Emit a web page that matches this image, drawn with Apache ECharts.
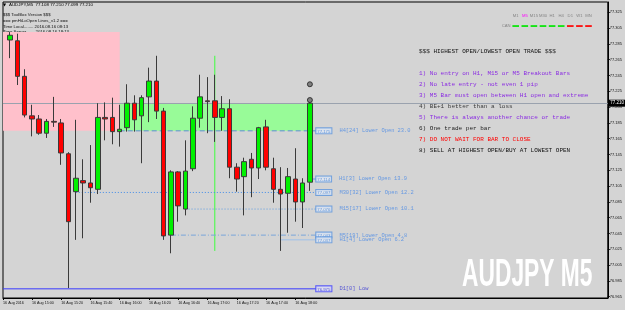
<!DOCTYPE html>
<html>
<head>
<meta charset="utf-8">
<script src="https://cdn.jsdelivr.net/npm/echarts@6/dist/echarts.min.js"></script>
<style>
html, body { margin: 0; padding: 0; background: #d4d4d4; }
#chart { width: 625px; height: 310px; }
</style>
</head>
<body>
<div id="chart"></div>
<script>
// AUDJPY M5 bars, 16 Aug 2016
var TIMES = ['14:45','14:50','14:55','15:00','15:05','15:10','15:15','15:20','15:25','15:30','15:35','15:40',
  '15:45','15:50','15:55','16:00','16:05','16:10','16:15','16:20','16:25','16:30','16:35','16:40',
  '16:45','16:50','16:55','17:00','17:05','17:10','17:15','17:20','17:25','17:30','17:35','17:40',
  '17:45','17:50','17:55','18:00','18:05','18:10'];
var OPEN = [77.290,77.289,77.244,77.194,77.190,77.172,77.187,77.185,77.146,77.098,77.112,77.109,
  77.101,77.192,77.192,77.174,77.179,77.210,77.194,77.218,77.238,77.200,77.043,77.123,
  77.076,77.127,77.191,77.213,77.213,77.192,77.203,77.129,77.117,77.139,77.128,77.180,
  77.127,77.101,77.096,77.114,77.085,77.110];
var CLOSE = [77.296,77.244,77.195,77.190,77.172,77.187,77.186,77.147,77.060,77.115,77.109,77.103,
  77.192,77.190,77.174,77.177,77.210,77.189,77.217,77.238,77.200,77.042,77.123,77.080,
  77.124,77.191,77.218,77.212,77.192,77.203,77.129,77.114,77.136,77.128,77.179,77.129,
  77.101,77.095,77.117,77.085,77.109,77.210];
var LOW = [77.267,77.233,77.192,77.168,77.170,77.166,77.180,77.132,76.976,77.037,77.039,77.084,
  77.095,77.163,77.158,77.155,77.174,77.174,77.134,77.186,77.190,77.037,77.020,77.060,
  77.068,77.124,77.179,77.172,77.161,77.175,77.115,77.098,77.068,77.091,77.114,77.125,
  77.084,77.023,77.046,77.060,77.052,77.099];
var HIGH = [77.300,77.298,77.253,77.208,77.195,77.190,77.218,77.190,77.148,77.189,77.139,77.157,
  77.210,77.211,77.217,77.208,77.234,77.220,77.220,77.255,77.270,77.204,77.125,77.124,
  77.163,77.206,77.246,77.243,77.246,77.219,77.215,77.134,77.141,77.147,77.180,77.189,
  77.141,77.129,77.128,77.153,77.115,77.211];

// axis labels (first one sits on the left edge)
var TICK_TIMES = [null,'15:00','15:20','15:40','16:00','16:20','16:40','17:00','17:20','17:40','18:00'];
var TICK_LABELS = ['16 Aug 2016','16 Aug 15:00','16 Aug 15:20','16 Aug 15:40','16 Aug 16:00','16 Aug 16:20',
  '16 Aug 16:40','16 Aug 17:00','16 Aug 17:20','16 Aug 17:40','16 Aug 18:00'];
var Y_TICKS = [76.965,76.985,77.005,77.025,77.045,77.065,77.085,77.105,77.125,77.145,77.165,
  77.185,77.205,77.225,77.245,77.265,77.285,77.305,77.325];
var LAST_PRICE = 77.210;

// HiLoOpen levels
var LEVEL_NAMES = ['H4[24] Lower Open 23.0','H1[3] Lower Open 13.9','M30[32] Lower Open 12.2',
  'M15[17] Lower Open 10.1','M5[19] Lower Open 4.8','H1[4] Lower Open 6.2','D1[0] Low'];
var LEVEL_PRICES = [77.175, 77.114, 77.097, 77.076, 77.043, 77.037, 76.975];
var LEVEL_FROM = ['16:00', '18:10', '15:30', '16:45', '16:35', '17:50', null];

// shaded zones
var ZONE_FROM = [null, '16:00'];
var ZONE_TO = ['16:00', null];
var ZONE_LOW = [77.175, 77.175];
var ZONE_HIGH = [77.300, 77.209];

var VLINE_TIME = '17:05', VLINE_TOP = 77.270, VLINE_BOTTOM = 77.023;
var MARK_TIMES = ['18:10', '18:10'];
var MARK_PRICES = [77.234, 77.214];

var INFO_LINES = ['$$$ TooBlox Version $$$', '=== pmHiLoOpen Lines_v1.2 ===',
  'Time Local........ 2016.08.16 08:13', 'Time Server....... 2016.08.16 18:13',
  'Time GMT.......... 2016.08.16 15:13', 'Bar ends in....... 0h 1m 57s', 'Spread Pips....... 2.0'];
var RULES = ['1) No entry on H1, M15 or M5 Breakout Bars', '2) No late entry - not even 1 pip',
  '3) M5 Bar must open between H1 open and extreme', '4) BE+1 better than a loss',
  '5) There is always another chance or trade', '6) One trade per bar',
  '7) DO NOT WAIT FOR BAR TO CLOSE', '8) SELL AT HIGHEST OPEN/BUY AT LOWEST OPEN'];
var RULE_COLORS = ['#8a2be2','#8a2be2','#8a2be2','#3a3a3a','#8a2be2','#222','#ff0000','#111'];
var TF_NAMES = ['M1','M5','M15','M30','H1','H4','D1','W1','MN'];
var TF_OK = [1,1,1,1,1,1,0,0,0];

var X_MIN = -0.955, X_MAX = 81.72, X_END = 41.8, ZONE_END = 41.45;
var Y_MIN = 76.9634, Y_MAX = 77.3381;

function idx(t) { return t ? TIMES.indexOf(t) : null; }

var candles = OPEN.map(function (o, i) { return [i, o, CLOSE[i], LOW[i], HIGH[i]]; });
var tickPos = TICK_TIMES.map(function (t) { return t ? idx(t) : X_MIN; });

var chart = echarts.init(document.getElementById('chart'));

var levelColors = ['#5b8fd0','#5f97e0','#3f8ae8','#5c9ae0','#7aa6da','#9ec0ea','#3a3aff'];
var levelTypes = [[5,3],'solid',[1,2],[1,2],[5,2,1,2],'solid','solid'];

var series = [];

series.push({
  type: 'line', z: 1, symbol: 'none', silent: true,
  data: [[X_MIN, Y_MIN]], lineStyle: { width: 0 },
  markArea: {
    silent: true, z: 1,
    data: ZONE_LOW.map(function (lo, i) {
      var x0 = ZONE_FROM[i] ? idx(ZONE_FROM[i]) : X_MIN;
      var x1 = ZONE_TO[i] ? idx(ZONE_TO[i]) : ZONE_END;
      return [
        { coord: [x0, ZONE_HIGH[i]], itemStyle: { color: i === 0 ? '#ffc0cb' : '#98fb98' } },
        { coord: [x1, lo] }
      ];
    })
  }
});

series.push({
  type: 'line', z: 2, symbol: 'none', silent: true,
  data: [[idx(VLINE_TIME), VLINE_TOP], [idx(VLINE_TIME), VLINE_BOTTOM]],
  lineStyle: { color: '#3cff3c', width: 1 }
});

LEVEL_PRICES.forEach(function (p, i) {
  var x0 = LEVEL_FROM[i] ? idx(LEVEL_FROM[i]) : X_MIN;
  series.push({
    type: 'line', z: 3, symbol: 'none', silent: true,
    data: [[x0, p], [X_END, p]],
    lineStyle: { color: levelColors[i], width: 1, type: levelTypes[i] }
  });
});

series.push({
  type: 'candlestick', z: 5,
  data: candles,
  encode: { x: 0, y: [1, 2, 3, 4] },
  barWidth: 5,
  itemStyle: {
    color: '#00f000', color0: '#ff0000',
    borderColor: '#3a3a3a', borderColor0: '#3a3a3a', borderWidth: 1
  },
  markLine: {
    silent: true, symbol: 'none', z: 4,
    lineStyle: { color: '#9aa2ae', type: 'solid', width: 1 },
    label: {
      position: 'end', formatter: LAST_PRICE.toFixed(3), color: '#fff', backgroundColor: '#000',
      fontSize: 4.5, fontFamily: 'Liberation Sans', padding: [1, 1.5], distance: 1
    },
    data: [{ yAxis: LAST_PRICE }]
  }
});

series.push({
  type: 'scatter', z: 6, symbol: 'circle', symbolSize: 5, silent: true,
  data: MARK_TIMES.map(function (t, i) { return [idx(t), MARK_PRICES[i]]; }),
  itemStyle: { color: '#6a6a6a', borderColor: '#1e1e1e', borderWidth: 1 }
});

series.push({
  type: 'scatter', z: 7, symbol: 'rect', symbolSize: 1, silent: true,
  itemStyle: { color: 'transparent' },
  data: LEVEL_PRICES.map(function (p, i) {
    var last = i === LEVEL_PRICES.length - 1;
    return {
      value: [X_END, p],
      label: {
        show: true, position: 'right', distance: 0,
        formatter: last ? '{b2|' + p.toFixed(3) + '}{t2|' + LEVEL_NAMES[i] + '}'
                        : '{b|' + p.toFixed(3) + '}{t|' + LEVEL_NAMES[i] + '}'
      }
    };
  }),
  label: {
    rich: {
      b: { fontSize: 4.3, fontFamily: 'Liberation Sans', color: '#3d7fd6', borderColor: '#5a94dc',
           borderWidth: 1, backgroundColor: '#e2e8f2', padding: [1, 1, 0, 1] },
      t: { fontSize: 5.4, fontFamily: 'Liberation Mono', color: '#4a8ae6', padding: [0, 0, 0, 8] },
      b2: { fontSize: 4.3, fontFamily: 'Liberation Sans', color: '#3030d8', borderColor: '#3a3aff',
            borderWidth: 1, backgroundColor: '#e2e4f4', padding: [1, 1, 0, 1] },
      t2: { fontSize: 5.4, fontFamily: 'Liberation Mono', color: '#3535d5', padding: [0, 0, 0, 8] }
    }
  }
});

var graphics = [];
graphics.push({ type: 'text', x: 3, y: 5, style: { text: '\u25BC', font: '4px "DejaVu Sans"', fill: '#000', verticalAlign: 'middle' } });
graphics.push({ type: 'text', x: 9, y: 5, style: { text: 'AUDJPY,M5  77.108 77.210 77.099 77.210', font: '4.4px "Liberation Sans"', fill: '#000', verticalAlign: 'middle' } });
INFO_LINES.forEach(function (s, i) {
  graphics.push({ type: 'text', x: 3, y: 15 + i * 5.75, style: { text: s, font: '4.3px "Liberation Sans"', fill: '#111', verticalAlign: 'middle' } });
});
graphics.push({ type: 'text', x: 419, y: 51, style: { text: '$$$ HIGHEST OPEN/LOWEST OPEN TRADE $$$', font: '6px "Liberation Mono"', fill: '#111', verticalAlign: 'middle' } });
RULES.forEach(function (s, i) {
  graphics.push({ type: 'text', x: 419, y: 73.3 + i * 10.95, style: { text: s, font: '6px "Liberation Mono"', fill: RULE_COLORS[i], verticalAlign: 'middle' } });
});
TF_NAMES.forEach(function (n, i) {
  var cx = 515.7 + i * 9.1;
  graphics.push({ type: 'text', x: cx, y: 16, style: { text: n, font: '4.2px "Liberation Sans"', fill: n === 'M5' ? '#ff00ff' : '#858585', align: 'center', verticalAlign: 'middle' } });
  graphics.push({ type: 'rect', shape: { x: cx - 3.3, y: 25.2, width: 6.6, height: 1.7 }, style: { fill: TF_OK[i] ? '#00e600' : '#ff0000' } });
});
graphics.push({ type: 'text', x: 510.5, y: 26, style: { text: 'CAN', font: '4.2px "Liberation Sans"', fill: '#858585', align: 'right', verticalAlign: 'middle' } });
graphics.push({ type: 'text', x: 462, y: 276, scaleX: 0.6, style: { text: 'AUDJPY M5', font: 'bold 38px "Liberation Sans"', fill: '#ffffff', verticalAlign: 'middle' } });

chart.setOption({
  animation: false,
  backgroundColor: '#d4d4d4',
  grid: { left: 2, right: 17, top: 2, bottom: 12, show: true, backgroundColor: '#d4d4d4', borderColor: '#000', borderWidth: 1 },
  xAxis: {
    type: 'value', min: X_MIN, max: X_MAX,
    splitLine: { show: false },
    axisLine: { onZero: false, lineStyle: { color: '#000' } },
    axisTick: { customValues: tickPos, length: 2, lineStyle: { color: '#000' } },
    axisLabel: {
      customValues: tickPos, align: 'left', margin: 3, fontSize: 3.7, color: '#111', fontFamily: 'Liberation Sans',
      formatter: function (v) {
        for (var i = 0; i < tickPos.length; i++) if (Math.abs(tickPos[i] - v) < 1e-6) return TICK_LABELS[i];
        return '';
      }
    }
  },
  yAxis: {
    type: 'value', position: 'right', min: Y_MIN, max: Y_MAX,
    splitLine: { show: false },
    axisLine: { show: true, onZero: false, lineStyle: { color: '#000' } },
    axisTick: { show: true, customValues: Y_TICKS, length: 2, lineStyle: { color: '#000' } },
    axisLabel: {
      customValues: Y_TICKS, margin: 2, fontSize: 4, color: '#111', fontFamily: 'Liberation Sans',
      formatter: function (v) { return v.toFixed(3); }
    }
  },
  series: series,
  graphic: graphics
});
</script>
</body>
</html>
